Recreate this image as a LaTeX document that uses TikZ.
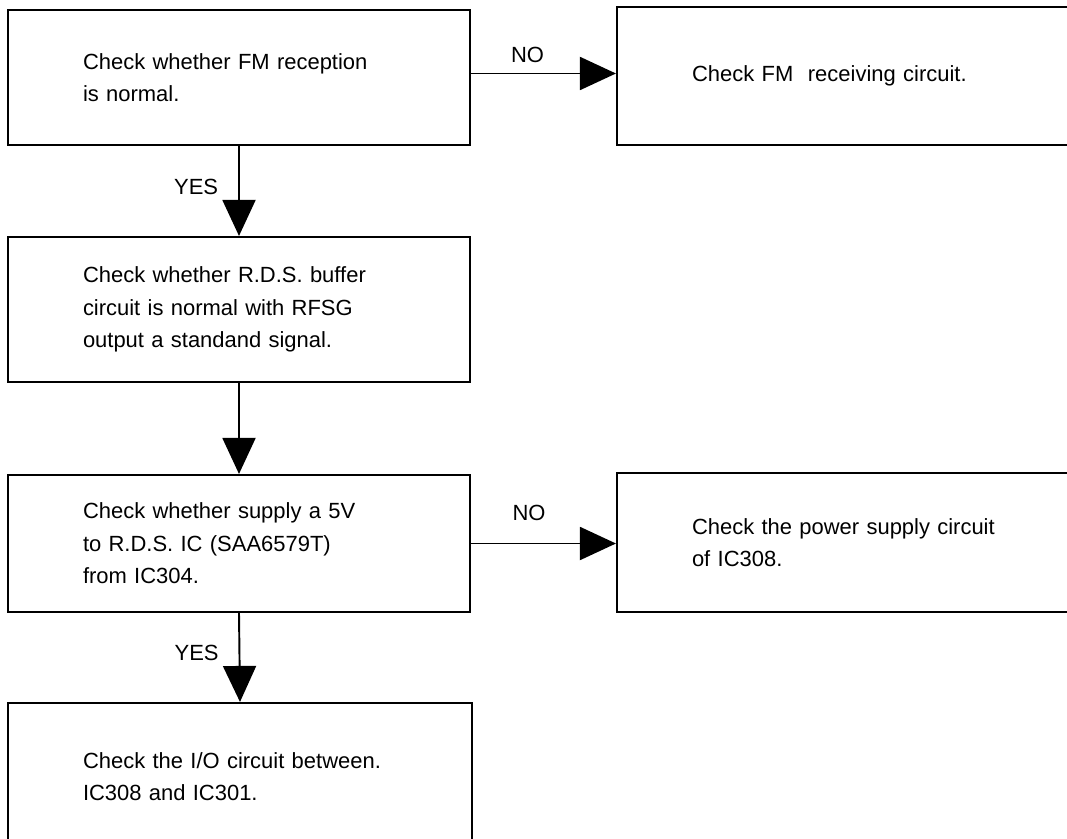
\documentclass[tikz,border=0pt]{standalone}
\usepackage{fontspec}
\setmainfont{Liberation Sans}
\usetikzlibrary{arrows.meta, positioning, calc}
\tikzset{
  % scanned service-manual look: plain black boxes, heavy triangle heads
  every picture/.append style = {line width=1.1pt},
  flow/.style  = {-{Triangle[length=7.2mm, width=6.6mm]}, line width=1.1pt},
  chk/.style   = {draw=black, line width=1.2pt, inner xsep=1.5cm, inner ysep=0pt,
                  align=left, font=\fontsize{12.5}{18.5}\selectfont},
  ans/.style   = {font=\fontsize{12.5}{15}\selectfont},
}

\begin{document}
\begin{tikzpicture}[x=1cm,y=1cm]
  \useasboundingbox (0,0) rectangle (21.34,-16.78);
  \clip (0,0) rectangle (21.34,-16.78);
  % --- main column ---------------------------------------------------------
  \node[chk, text width=6.24cm, minimum height=2.7cm]  (fmok)  at (4.78,-1.55)
    {Check whether FM reception\\is normal.};
  \node[chk, text width=6.24cm, minimum height=2.9cm]  (rdsbuf) at (4.78,-6.19)
    {Check whether R.D.S. buffer\\circuit is normal with RFSG\\output a standand signal.};
  \node[chk, text width=6.24cm, minimum height=2.74cm] (supply) at (4.78,-10.87)
    {Check whether supply a 5V\\to R.D.S. IC (SAA6579T)\\from IC304.};
  \node[chk, text width=6.28cm, minimum height=2.94cm] (iocirc) at (4.80,-15.53)
    {Check the I/O circuit between.\\IC308 and IC301.};
  % --- right column --------------------------------------------------------
  \node[chk, text width=6.46cm, minimum height=2.76cm] (fmrx)  at (17.07,-1.52)
    {Check FM\ \ receiving circuit.};
  \node[chk, text width=6.46cm, minimum height=2.78cm] (power) at (17.07,-10.85)
    {Check the power supply circuit\\of IC308.};
  % --- connectors ----------------------------------------------------------
  \coordinate (fmno) at ($(fmok.east)+(0,0.08)$);
  \draw[flow] (fmno) -- (fmno -| fmrx.west)
    node[ans, pos=0.39, above=2pt] {NO};
  \draw[flow] (fmok.south) -- (rdsbuf.north)
    node[ans, pos=0.45, left=8pt] {YES};
  \draw[flow] (rdsbuf.south) -- (supply.north);
  \draw[flow] (supply.east) -- (supply.east -| power.west)
    node[ans, pos=0.4, above=9pt] {NO};
  \draw[flow] (supply.south) -- (iocirc.north)
    node[ans, pos=0.45, left=8pt] {YES};
\end{tikzpicture}
\end{document}
